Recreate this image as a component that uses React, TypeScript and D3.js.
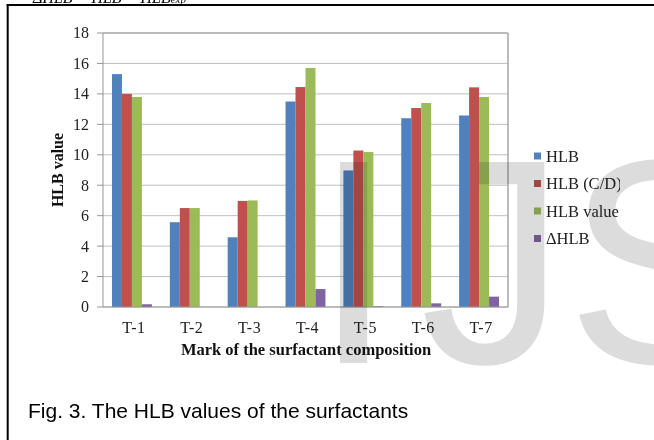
import React from "react";
import * as d3 from "d3";

const categories = ["T-1", "T-2", "T-3", "T-4", "T-5", "T-6", "T-7"];
const seriesNames = ["HLB", "HLB (C/D)", "HLB value", "ΔHLB"];
const hlb = [15.3, 5.57, 4.58, 13.5, 8.97, 12.4, 12.58];
const hlbCD = [14.0, 6.5, 6.97, 14.45, 10.28, 13.07, 14.43];
const hlbValue = [13.8, 6.5, 7.0, 15.7, 10.18, 13.4, 13.8];
const deltaHlb = [0.18, 0.0, 0.0, 1.18, 0.05, 0.24, 0.68];
const yTicks = [0, 2, 4, 6, 8, 10, 12, 14, 16, 18];
const colors = ["#4F81BD", "#C0504D", "#9BBB59", "#8064A2"];

const W = 654;
const H = 440;
const plot = { left: 103, right: 508, top: 33, bottom: 307 };

export default function App() {
  const series = [hlb, hlbCD, hlbValue, deltaHlb];
  const x0 = d3
    .scaleBand<string>()
    .domain(categories)
    .range([plot.left, plot.right])
    .paddingInner(0.31)
    .paddingOuter(0.155);
  const x1 = d3
    .scaleBand<string>()
    .domain(seriesNames)
    .range([0, x0.bandwidth()])
    .padding(0);
  const y = d3.scaleLinear().domain([0, 18]).range([plot.bottom, plot.top]);
  const serif = "'Liberation Serif', 'Times New Roman', serif";
  const sans = "'Liberation Sans', Arial, sans-serif";
  const legendY = d3.scalePoint<string>().domain(seriesNames).range([156, 238.5]);

  return (
    <svg
      width={W}
      height={H}
      style={{ position: "absolute", left: 0, top: 0, background: "#fff" }}
    >
      <defs>
        <clipPath id="legclip">
          <rect x={520} y={0} width={100} height={H} />
        </clipPath>
      </defs>
      <rect x={0} y={0} width={W} height={H} fill="#fff" />
      {/* cut-off top text */}
      <text x={33} y={3} fontFamily={serif} fontStyle="italic" fontSize={16} fill="#000">
        ΔHLB  =  HLB
        <tspan>  −  HLB</tspan>
        <tspan fontSize={11}>exp</tspan>
      </text>
      {/* frame */}
      <line x1={7.7} y1={4} x2={7.7} y2={H} stroke="#000" strokeWidth={2} />
      <line x1={6.7} y1={5} x2={W} y2={5} stroke="#000" strokeWidth={2} />

      {/* gridlines */}
      {yTicks.map((t) => (
        <line
          key={"g" + t}
          x1={plot.left}
          x2={plot.right}
          y1={y(t)}
          y2={y(t)}
          stroke={t === 18 ? "#a6a6a6" : "#bfbfbf"}
          strokeWidth={t === 18 ? 1.5 : 1}
        />
      ))}
      <line x1={plot.right} x2={plot.right} y1={plot.top} y2={plot.bottom} stroke="#a6a6a6" strokeWidth={1.5} />

      {/* bars */}
      {series.map((vals, si) =>
        vals.map((v, ci) => (
          <rect
            key={si + "-" + ci}
            x={(x0(categories[ci]) as number) + (x1(seriesNames[si]) as number)}
            width={x1.bandwidth()}
            y={y(v)}
            height={plot.bottom - y(v)}
            fill={colors[si]}
          />
        ))
      )}

      {/* axes */}
      <line x1={plot.left} x2={plot.left} y1={plot.top} y2={plot.bottom} stroke="#969696" strokeWidth={1} />
      <line x1={plot.left} x2={plot.right} y1={plot.bottom} y2={plot.bottom} stroke="#969696" strokeWidth={1} />
      {yTicks.map((t) => (
        <g key={"t" + t}>
          <line x1={plot.left - 6} x2={plot.left} y1={y(t)} y2={y(t)} stroke="#969696" />
          <text
            x={89}
            y={y(t)}
            dy="0.34em"
            textAnchor="end"
            fontFamily={serif}
            fontSize={16}
            fill="#222"
          >
            {t}
          </text>
        </g>
      ))}
      {categories.map((c) => (
        <text
          key={c}
          x={(x0(c) as number) + x0.bandwidth() / 2 + 2}
          y={333}
          textAnchor="middle"
          fontFamily={serif}
          fontSize={16}
          letterSpacing={0.5}
          fill="#222"
        >
          {c}
        </text>
      ))}
      <text
        x={306}
        y={355}
        textAnchor="middle"
        fontFamily={serif}
        fontWeight="bold"
        fontSize={16.5}
        fill="#111"
      >
        Mark of the surfactant composition
      </text>
      <text
        transform={`translate(63,${(plot.top + plot.bottom) / 2}) rotate(-90)`}
        textAnchor="middle"
        fontFamily={serif}
        fontWeight="bold"
        fontSize={16}
        fill="#111"
      >
        HLB value
      </text>

      {/* legend */}
      <g clipPath="url(#legclip)">
        {seriesNames.map((s, i) => (
          <g key={s}>
            <rect x={534} y={(legendY(s) as number) - 3.5} width={7} height={7} fill={colors[i]} />
            <text
              x={546}
              y={legendY(s) as number}
              dy="0.34em"
              fontFamily={serif}
              fontSize={16.5}
              fill="#222"
            >
              {s}
            </text>
          </g>
        ))}
      </g>

      {/* caption */}
      <text x={28} y={418} fontFamily={sans} fontSize={21} fill="#000">
        Fig. 3. The HLB values of the surfactants
      </text>

      {/* watermark */}
      <g style={{ mixBlendMode: "multiply" }}>
        <text x={313} y={363} fontFamily={sans} fontSize={292} fill="#dcdcdc">
          I
        </text>
        <text x={420} y={363} fontFamily={sans} fontSize={292} fill="#dcdcdc">
          JSER
        </text>
      </g>
    </svg>
  );
}
